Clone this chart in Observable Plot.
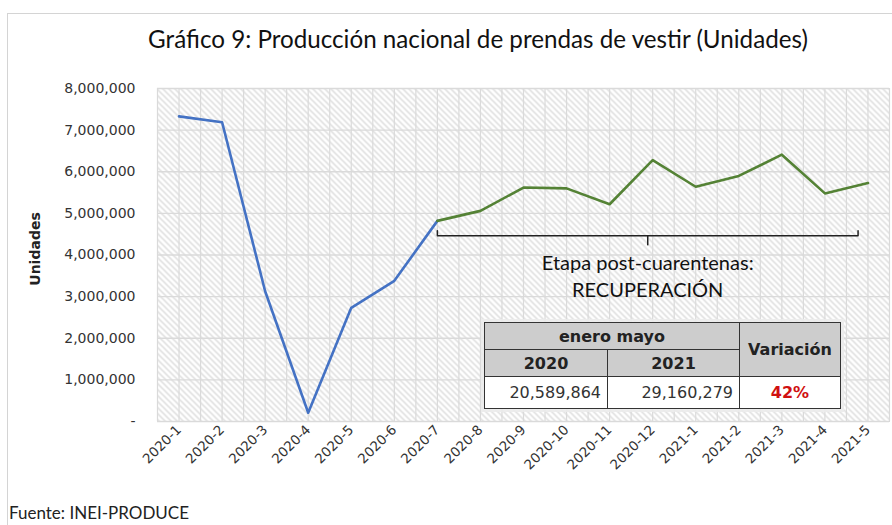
<!DOCTYPE html>
<html><head><meta charset="utf-8">
<script src="https://cdn.jsdelivr.net/npm/d3@7"></script>
<script src="https://cdn.jsdelivr.net/npm/@observablehq/plot@0.6"></script>
<style>
body{margin:0;background:#fff;}
#wrap{position:relative;width:892px;height:525px;overflow:hidden;font-family:Lato,"DejaVu Sans",sans-serif;}
#border{position:absolute;left:7px;top:13px;width:920px;height:540px;border:1px solid #d4d4d4;box-sizing:border-box;}
#title{position:absolute;left:478px;top:24px;transform:translateX(-50%);white-space:nowrap;font-size:24.2px;color:#111;}
#chart{position:absolute;left:0;top:70px;}
#foot{position:absolute;left:9px;top:502px;font-size:17px;color:#222;white-space:nowrap;}
#tbl{position:absolute;left:484px;top:322px;border-collapse:collapse;font-family:"DejaVu Sans",sans-serif;box-shadow:0 0 0 3px rgba(235,235,235,0.9);}
#tbl td,#tbl th{border:1.5px solid #333;padding:0 6px;color:#222;}
#tbl th{background:#cdcdcd;font-weight:bold;font-size:16px;text-align:center;}
#tbl td{background:#fff;font-size:16px;text-align:right;color:#333;}
#tbl td.var{color:#d01010;font-weight:bold;text-align:center;}
</style></head>
<body>
<div id="wrap">
  <div id="border"></div>
  <div id="title"></div>
  <div id="chart"></div>
  <div id="foot"></div>
</div>
<script>
const titleText = "Gráfico 9: Producción nacional de prendas de vestir (Unidades)";
const footText = "Fuente: INEI-PRODUCE";
const yLabel = "Unidades";
const months = ["2020-1","2020-2","2020-3","2020-4","2020-5","2020-6","2020-7","2020-8","2020-9","2020-10","2020-11","2020-12","2021-1","2021-2","2021-3","2021-4","2021-5"];
const units = [7330000,7190000,3130000,210000,2730000,3380000,4820000,5060000,5620000,5600000,5220000,6280000,5640000,5900000,6410000,5480000,5730000];
const recoveryStart = "2020-7";
const yTicks = [0,1000000,2000000,3000000,4000000,5000000,6000000,7000000,8000000];
const annotationLines = ["Etapa post-cuarentenas:","RECUPERACIÓN"];
const bracketFrom = 6, bracketTo = 15.77, bracketValue = 4460000, bracketHook = 120000, bracketStem = 240000, annotationValue = 3520000;
const tableGroup = "enero mayo";
const tableYears = ["2020","2021"];
const tableTotals = [20589864, 29160279];
const tableVariationLabel = "Variación";
const tableVariation = "42%";

document.getElementById("title").textContent = titleText;
document.getElementById("foot").textContent = footText;

const data = months.map((m,i)=>({i, m, v: units[i]}));
const cut = months.indexOf(recoveryStart);
const lockdown = data.slice(0, cut+1);
const recovery = data.slice(cut);
const gridX = d3.range(-0.5, months.length - 0.5 + 0.01, 0.5);
const fmt = d3.format(",");
const bracket = [
  {x: bracketFrom, y: bracketValue + bracketHook},
  {x: bracketFrom, y: bracketValue},
  {x: bracketTo, y: bracketValue},
  {x: bracketTo, y: bracketValue + bracketHook}
];
const mid = (bracketFrom + bracketTo)/2;

const svg = Plot.plot({
  width: 892, height: 430,
  marginLeft: 157, marginRight: 3, marginTop: 18, marginBottom: 79,
  style: {fontFamily: "'DejaVu Sans', sans-serif", fontSize: "13px", color: "#404040", background: "transparent"},
  x: {type: "linear", domain: [-0.5, months.length - 0.5]},
  y: {domain: [0, 8000000]},
  marks: [
    Plot.frame({fill: "url(#hatch)", stroke: "#d9d9d9"}),
    Plot.ruleX(gridX, {stroke: "#dadada", strokeWidth: 1.2}),
    Plot.ruleY(yTicks, {stroke: "#dadada", strokeWidth: 1.3}),
    Plot.axisY({ticks: yTicks, tickSize: 0, tickPadding: 22, tickFormat: d => d === 0 ? "-" : fmt(d), fontSize: 14, label: null, fill: "#333"}),
    Plot.axisX({ticks: data.map(d => d.i), tickFormat: i => months[i], tickRotate: -45, tickSize: 0, tickPadding: 6, label: null, fontSize: 13.5, fill: "#333"}),
    Plot.text([yLabel], {frameAnchor: "left", textAnchor: "middle", dx: -122, dy: -6, rotate: -90, fontWeight: "bold", fontSize: 14, fill: "#222"}),
    Plot.line(bracket, {x: "x", y: "y", stroke: "#222", strokeWidth: 1.5, curve: "linear"}),
    Plot.ruleX([mid], {y1: bracketValue, y2: bracketValue - bracketStem, stroke: "#222", strokeWidth: 1.5}),
    Plot.text([annotationLines.join("\n")], {x: mid, y: annotationValue, fontSize: 20, lineHeight: 1.35, fill: "#111", fontFamily: "Lato, sans-serif"}),
    Plot.line(lockdown, {x: "i", y: "v", stroke: "#4472c4", strokeWidth: 2.6}),
    Plot.line(recovery, {x: "i", y: "v", stroke: "#548235", strokeWidth: 2.6})
  ]
});
const ns = "http://www.w3.org/2000/svg";
const defs = document.createElementNS(ns, "defs");
defs.innerHTML = '<pattern id="hatch" patternUnits="userSpaceOnUse" width="6" height="6"><rect width="6" height="6" fill="#fff"/><path d="M-1,-1L7,7M-1,5L1,7M5,-1L7,1" stroke="#dcdcdc" stroke-width="1.5"/></pattern>';
svg.insertBefore(defs, svg.firstChild);
document.getElementById("chart").appendChild(svg);

// summary table (annotation)
const tbl = document.createElement("table");
tbl.id = "tbl";
const r1 = tbl.insertRow(), r2 = tbl.insertRow(), r3 = tbl.insertRow();
r1.style.height = "27px"; r2.style.height = "27px"; r3.style.height = "32px";
const h = document.createElement("th"); h.colSpan = 2; h.textContent = tableGroup; r1.appendChild(h);
const hv = document.createElement("th"); hv.rowSpan = 2; hv.textContent = tableVariationLabel; hv.style.width = "88px"; r1.appendChild(hv);
const widths = ["110px","119px"];
tableYears.forEach((y, k) => { const c = document.createElement("th"); c.textContent = y; c.style.width = widths[k]; r2.appendChild(c); });
tableTotals.forEach(t => { const c = r3.insertCell(); c.textContent = fmt(t); });
const cv = r3.insertCell(); cv.className = "var"; cv.textContent = tableVariation;
document.getElementById("wrap").appendChild(tbl);
</script>
</body></html>
